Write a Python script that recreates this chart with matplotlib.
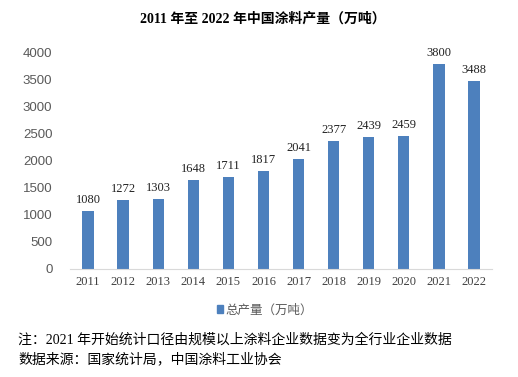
import matplotlib.pyplot as plt
from matplotlib.patches import Patch

years = ['2011', '2012', '2013', '2014', '2015', '2016',
         '2017', '2018', '2019', '2020', '2021', '2022']
output = [1080, 1272, 1303, 1648, 1711, 1817, 2041, 2377, 2439, 2459, 3800, 3488]
yticks = [0, 500, 1000, 1500, 2000, 2500, 3000, 3500, 4000]

serif = ['Liberation Serif', 'Noto Sans CJK SC']
cjk = ['Noto Sans CJK SC', 'DejaVu Sans']
bar_color = '#4d80bd'

fig = plt.figure(figsize=(5.18, 3.77), dpi=100)
ax = fig.add_axes([0.136, 0.2865, 0.813, 0.573])

x = range(len(years))
bars = ax.bar(x, output, width=0.32, color=bar_color)
for xi, v in zip(x, output):
    ax.text(xi, v + 90, str(v), ha='center', va='bottom',
            fontsize=9, family=serif, color='#222222')

ax.set_xlim(-0.5, len(years) - 0.5)
ax.set_ylim(0, 4000)
ax.set_yticks(yticks)
ax.set_yticklabels([str(t) for t in yticks], family='Liberation Sans',
                   fontsize=9.5, color='#595959')
ax.set_xticks(list(x))
ax.set_xticklabels(years, family=serif, fontsize=9, color='#404040')
ax.tick_params(axis='both', length=0)
ax.tick_params(axis='y', pad=13)
ax.tick_params(axis='x', pad=5)
for s in ['top', 'right', 'left']:
    ax.spines[s].set_visible(False)
ax.spines['bottom'].set_color('#d9d9d9')

fig.text(0.507, 0.95, '2011 年至 2022 年中国涂料产量（万吨）', ha='center', va='center',
         fontsize=10, fontweight='bold', family=serif, color='black')

leg = fig.legend(handles=[Patch(color=bar_color, label='总产量（万吨）')],
                 loc='center', bbox_to_anchor=(0.512, 0.178), frameon=False,
                 handlelength=0.5, handleheight=0.5, handletextpad=0.2,
                 prop={'family': cjk, 'size': 9})
for t in leg.get_texts():
    t.set_color('#595959')

fig.text(0.035, 0.098, '注：2021 年开始统计口径由规模以上涂料企业数据变为全行业企业数据',
         ha='left', va='center', fontsize=10, family=serif, color='black')
fig.text(0.035, 0.048, '数据来源：国家统计局，中国涂料工业协会',
         ha='left', va='center', fontsize=10, family=serif, color='black')

fig.savefig('out.png', dpi=100)
